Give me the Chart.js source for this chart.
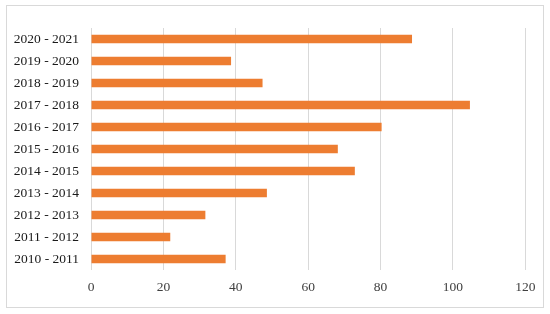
<!DOCTYPE html>
<html>
<head>
<meta charset="utf-8">
<script src="https://cdn.jsdelivr.net/npm/chart.js@4"></script>
<style>
html,body{margin:0;padding:0;background:#fff;}
#wrap{width:550px;height:314px;position:relative;}
</style>
</head>
<body>
<div id="wrap"><canvas id="c" width="550" height="314"></canvas></div>
<script>
const categories = ["2010 - 2011","2011 - 2012","2012 - 2013","2013 - 2014","2014 - 2015","2015 - 2016","2016 - 2017","2017 - 2018","2018 - 2019","2019 - 2020","2020 - 2021"];
const values = [37.2, 21.9, 31.6, 48.6, 72.9, 68.2, 80.3, 104.7, 47.4, 38.7, 88.7];
const xTicks = [0, 20, 40, 60, 80, 100, 120];

const borderPlugin = {
  id: 'frame',
  beforeDraw(chart) {
    const ctx = chart.ctx;
    ctx.save();
    ctx.fillStyle = '#fff';
    ctx.fillRect(0, 0, chart.width, chart.height);
    ctx.strokeStyle = '#d9d9d9';
    ctx.lineWidth = 1;
    ctx.strokeRect(6.5, 5.5, 537, 302);
    ctx.restore();
  }
};

new Chart(document.getElementById('c'), {
  type: 'bar',
  data: {
    labels: categories,
    datasets: [{
      data: values,
      backgroundColor: '#ED7D31',
      borderWidth: 0,
      barPercentage: 0.78,
      categoryPercentage: 0.5
    }]
  },
  options: {
    indexAxis: 'y',
    responsive: false,
    animation: false,
    devicePixelRatio: 1,
    layout: { padding: { left: 0, right: 24.7, top: 28, bottom: 0 } },
    plugins: { legend: { display: false }, tooltip: { enabled: false } },
    scales: {
      x: {
        min: 0, max: 120,
        afterBuildTicks(scale) { scale.ticks = xTicks.map(v => ({ value: v })); },
        grid: { color: '#d9d9d9', drawTicks: false, lineWidth: 1 },
        border: { display: false },
        ticks: { color: '#404040', font: { family: 'Liberation Serif', size: 13.5 }, padding: 9 },
        afterFit(scale) { scale.height = 44; }
      },
      y: {
        reverse: true,
        grid: { display: false, drawTicks: false },
        border: { display: false },
        ticks: { color: '#1a1a1a', font: { family: 'Liberation Serif', size: 13.5 }, padding: 12 },
        afterFit(scale) { scale.width = 91; }
      }
    }
  },
  plugins: [borderPlugin]
});
</script>
</body>
</html>
